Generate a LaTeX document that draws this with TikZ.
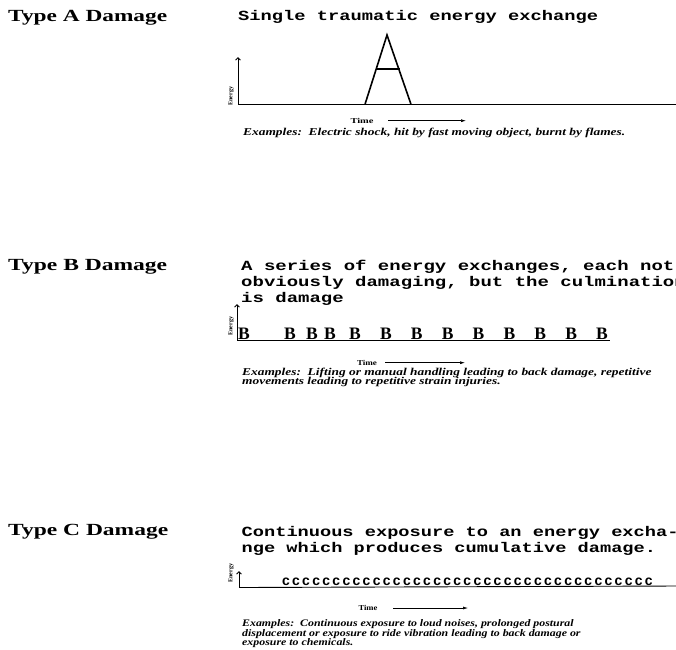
\documentclass[tikz,border=0pt]{standalone}
\usepackage{fontspec}
\usepackage{graphicx}
\setmainfont{Liberation Serif}
\newfontfamily\monoP{Liberation Mono}
\usetikzlibrary{arrows.meta}
\newcommand\fitto[2]{\resizebox{#1pt}{\height}{#2}}
\newcommand\exfont{\bfseries\itshape\fontsize{10.5}{10.5}\selectfont}
\newcommand\exfontc{\bfseries\itshape\fontsize{10}{10}\selectfont}
\newcommand\mfont{\monoP\bfseries\fontsize{14}{14}\selectfont}
\newlength\exwA
\begin{document}
\settowidth\exwA{\exfont Examples:\ \ Electric shock, hit by fast moving object, burnt by flames.}%
\pgfmathsetmacro\exsx{382/\exwA}%
\pgfmathsetmacro\exsxc{0.93*\exsx}%
\begin{tikzpicture}[x=1pt,y=-1pt,
 typelbl/.style={anchor=base west,inner sep=0pt,font=\bfseries\fontsize{17}{17}\selectfont},
 monol/.style={anchor=base west,inner sep=0pt,font=\mfont},
 exlbl/.style={anchor=base west,inner sep=0pt,font=\exfont},
 exlblc/.style={anchor=base west,inner sep=0pt,font=\exfontc},
 timelbl/.style={anchor=base,inner sep=0pt,font=\bfseries\fontsize{7.5}{7.5}\selectfont},
 energylbl/.style={rotate=90,inner sep=0pt,font=\bfseries\fontsize{6}{6}\selectfont},
 axisline/.style={line width=0.9pt},
 axisarrow/.style={line width=0.9pt,-{Straight Barb[length=2.5pt,width=5pt]}},
 timearrow/.style={line width=0.6pt,-{Latex[length=5pt,width=3pt]}},
 bigA/.style={line width=1.6pt,line join=miter},
 bmark/.style={anchor=base,inner sep=0pt,font=\bfseries\fontsize{17.5}{17.5}\selectfont},
 cmark/.style={anchor=base,inner sep=0pt,font=\monoP\bfseries\fontsize{14}{14}\selectfont}]
\useasboundingbox[fill=white] (0,0) rectangle (676,649);

% ---------------- Type A ----------------
\node[typelbl] (ta) at (8,21.7) {\fitto{159}{Type A Damage}};
\node[monol] (da) at (238,20.7) {\fitto{360}{Single traumatic energy exchange}};
\coordinate (a0) at (238,104.3);
\coordinate (atop) at (238,57);
\coordinate (aend) at (676,104.3);
\draw[axisarrow] (a0) -- (atop);
\draw[axisline] (a0) -- (aend);
\node[energylbl] (ea) at (231,96) {Energy};
\coordinate (Al) at (365,104.3);
\coordinate (Aa) at (387,35);
\coordinate (Ar) at (411,104.3);
\coordinate (Acl) at (376.5,69);
\coordinate (Acr) at (399.5,69);
\draw[bigA] (Al) -- (Aa) -- (Ar);
\draw[bigA] (Acl) -- (Acr);
\node[timelbl] (tma) at (362,123.3) {\fitto{23}{Time}};
\coordinate (tas) at (388,120.7);
\coordinate (tae) at (466,120.7);
\draw[timearrow] (tas) -- (tae);
\node[exlbl] (xa) at (243,135) {\scalebox{\exsx}[1]{Examples:\ \ Electric shock, hit by fast moving object, burnt by flames.}};

% ---------------- Type B ----------------
\node[typelbl] (tb) at (8,270) {\fitto{159}{Type B Damage}};
\node[monol] (db1) at (241,270.7) {\fitto{433.2}{A series of energy exchanges, each not}};
\node[monol] (db2) at (241,286.7) {\fitto{444.6}{obviously damaging, but the culmination}};
\node[monol] (db3) at (241,302.7) {\fitto{102.6}{is damage}};
\coordinate (b0) at (237,340.5);
\coordinate (btop) at (237,304);
\coordinate (bend) at (610,340.5);
\draw[axisarrow] (b0) -- (btop);
\draw[axisline] (b0) -- (bend);
\node[energylbl] (eb) at (231,326) {Energy};
\foreach \x [count=\i] in {244,290,312,330,355,385.9,416.8,447.6,478.5,509.4,540.3,571.1,602}
  \node[bmark] (B\i) at (\x,339.5) {B};
\node[timelbl] (tmb) at (367,365) {\fitto{20}{Time}};
\coordinate (tbs) at (385,362.7);
\coordinate (tbe) at (465,362.7);
\draw[timearrow] (tbs) -- (tbe);
\node[exlbl] (xb1) at (242,375) {\scalebox{\exsx}[1]{Examples:\ \ Lifting or manual handling leading to back damage, repetitive}};
\node[exlbl] (xb2) at (242,384.3) {\scalebox{\exsx}[1]{movements leading to repetitive strain injuries.}};

% ---------------- Type C ----------------
\node[typelbl] (tc) at (8,535.5) {\fitto{160}{Type C Damage}};
\node[monol] (dc1) at (241.5,536.7) {\fitto{436.8}{Continuous exposure to an energy excha-}};
\node[monol] (dc2) at (241.5,552.7) {\fitto{414.4}{nge which produces cumulative damage.}};
\coordinate (c0) at (239,587.5);
\coordinate (ctop) at (239,571);
\coordinate (cend) at (676,586);
\draw[axisarrow] (c0) -- (ctop);
\draw[axisline] (c0) -- (cend);
\node[energylbl] (ec) at (231,573) {Energy};
\foreach \i in {0,...,36}
  \node[cmark] (C\i) at ({286+\i*10.08},585.5) {c};
\node[timelbl] (tmc) at (368,610) {\fitto{19}{Time}};
\coordinate (tcs) at (393,608);
\coordinate (tce) at (468,608);
\draw[timearrow] (tcs) -- (tce);
\node[exlblc] (xc1) at (242,626.7) {\scalebox{\exsxc}[1]{Examples:\ \ Continuous exposure to loud noises, prolonged postural}};
\node[exlblc] (xc2) at (242,636.2) {\scalebox{\exsxc}[1]{displacement or exposure to ride vibration leading to back damage or}};
\node[exlblc] (xc3) at (242,645.7) {\scalebox{\exsxc}[1]{exposure to chemicals.}};
\end{tikzpicture}
\end{document}
